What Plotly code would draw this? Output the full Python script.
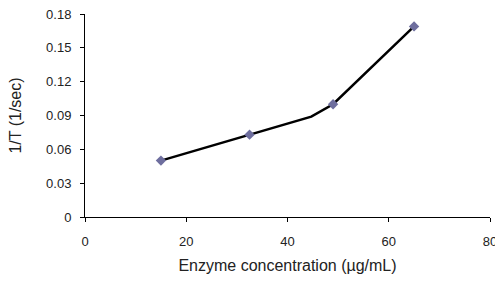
import plotly.graph_objects as go

# Data
enzyme_conc = [15, 32.5, 49, 65]
inv_time = [0.050, 0.073, 0.100, 0.169]
# line path (includes bend at ~45 visible in the reference)
line_x = [15, 32.5, 44.7, 49, 65]
line_y = [0.050, 0.073, 0.089, 0.100, 0.169]

x_ticks = [0, 20, 40, 60, 80]
y_ticks = [0, 0.03, 0.06, 0.09, 0.12, 0.15, 0.18]
y_tick_labels = ["0", "0.03", "0.06", "0.09", "0.12", "0.15", "0.18"]

fig = go.Figure()
fig.add_trace(go.Scatter(x=line_x, y=line_y, mode="lines",
                         line=dict(color="black", width=2.5),
                         showlegend=False, hoverinfo="skip"))
fig.add_trace(go.Scatter(x=enzyme_conc, y=inv_time, mode="markers",
                         marker=dict(symbol="diamond", size=8, color="#6e6e9e"),
                         showlegend=False))

font = dict(family="Liberation Sans, Arial, sans-serif", size=13, color="#222222")
fig.update_layout(
    width=495, height=281,
    margin=dict(l=85, r=5, t=14, b=64),
    paper_bgcolor="white", plot_bgcolor="white",
    font=font,
    xaxis=dict(range=[0, 80], tickvals=x_ticks, showgrid=False, zeroline=False,
               showline=True, linecolor="black", linewidth=1,
               ticks="outside", ticklen=4, tickcolor="black",
               ticklabelstandoff=8, ticklabeloverflow="allow", automargin=False,
               title=dict(text="Enzyme concentration (µg/mL)", standoff=12)),
    yaxis=dict(range=[0, 0.18], tickvals=y_ticks, ticktext=y_tick_labels,
               showgrid=False, zeroline=False,
               showline=True, linecolor="black", linewidth=1,
               ticks="outside", ticklen=4, tickcolor="black",
               ticklabelstandoff=6,
               title=dict(text="1/T (1/sec)", standoff=20)),
)
fig.write_html("out.html")
